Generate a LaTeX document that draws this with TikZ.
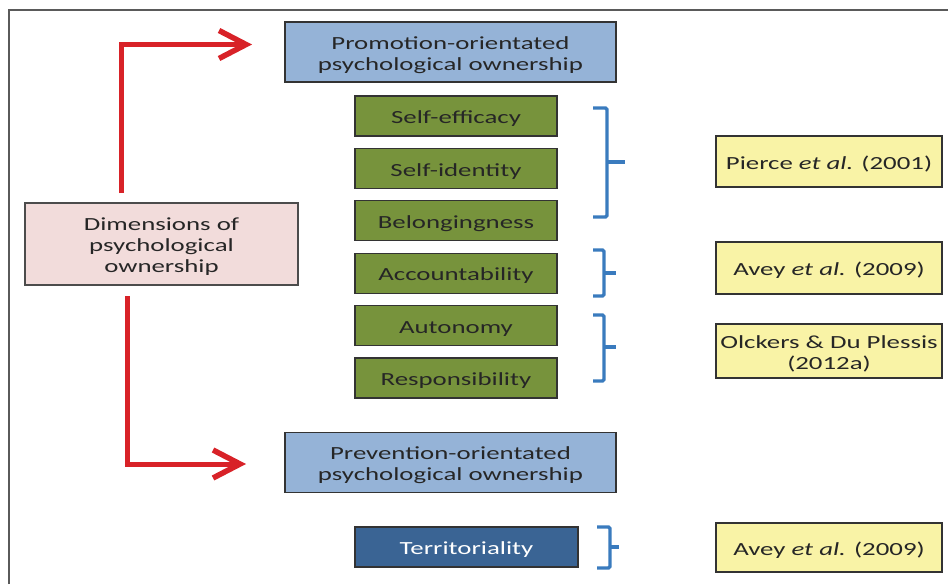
\documentclass[tikz,border=0pt]{standalone}
\usepackage{fontspec}
\setmainfont{Carlito}[FakeStretch=1.45]
\usetikzlibrary{arrows.meta}

\definecolor{boxblue}{HTML}{95B3D7}
\definecolor{boxgreen}{HTML}{77933C}
\definecolor{boxpink}{HTML}{F2DCDB}
\definecolor{boxyellow}{HTML}{F9F3A6}
\definecolor{boxnavy}{HTML}{3A6494}
\definecolor{arrowred}{HTML}{D82228}
\definecolor{bracketblue}{HTML}{3A7BBE}
\definecolor{textgray}{HTML}{262626}
\definecolor{framegray}{HTML}{5A5A5A}

% centred lines, set slightly below the middle of their box
\newcommand{\boxlines}[1]{\raisebox{-3.5pt}[\height][\depth]{\begin{tabular}{@{}c@{}}#1\end{tabular}}}

\tikzset{
  basebox/.style={rectangle, inner sep=0pt, text=textgray,
    font=\fontsize{18.5}{21}\selectfont, line width=1.2pt, draw=black!80},
  orientbox/.style={basebox, fill=boxblue, minimum width=331pt, minimum height=60pt},
  dimbox/.style={basebox, fill=boxgreen, minimum width=202pt, minimum height=40pt},
  terrbox/.style={basebox, fill=boxnavy, text=white, minimum width=223pt, minimum height=40pt},
  mainbox/.style={basebox, fill=boxpink, draw=black!70, minimum width=273pt, minimum height=82pt},
  refbox/.style={basebox, fill=boxyellow, minimum width=226pt},
  redarrow/.style={draw=arrowred, line width=5pt,
    -{Straight Barb[length=27pt, width=28pt, line width=5.5pt]}},
  bracket/.style={draw=bracketblue, line width=3.3pt, rounded corners=1.5pt},
  frameline/.style={draw=framegray, line width=2pt}
}

\begin{document}
\begin{tikzpicture}[x=1pt, y=-1pt]
  \useasboundingbox (0,0) rectangle (948,584);
  \fill[white] (0,0) rectangle (948,584);

  % page frame, top and left edges
  \draw[frameline] (8.5,584) -- (8.5,9.5) -- (948,9.5);

  % orientation boxes
  \node[orientbox] (promo) at (450.5,52) {\boxlines{Promotion-orientated\\psychological ownership}};
  \node[orientbox] (prev) at (450.5,462.5) {\boxlines{Prevention-orientated\\psychological ownership}};

  % central box
  \node[mainbox] (dims) at (161.5,244) {\boxlines{Dimensions of\\psychological\\ownership}};

  % dimensions
  \node[dimbox] (eff) at (456,116) {\boxlines{Self-efficacy}};
  \node[dimbox] (ident) at (456,168.4) {\boxlines{Self-identity}};
  \node[dimbox] (belong) at (456,220.8) {\boxlines{Belongingness}};
  \node[dimbox] (account) at (456,273.2) {\boxlines{Accountability}};
  \node[dimbox] (auto) at (456,325.6) {\boxlines{Autonomy}};
  \node[dimbox] (resp) at (456,378) {\boxlines{Responsibility}};
  \node[terrbox] (terr) at (466.5,547) {\boxlines{Territoriality}};

  % references
  \node[refbox, minimum height=51pt] (pierce) at (829,161.5) {\boxlines{Pierce \textit{et al.} (2001)}};
  \node[refbox, minimum height=52pt] (avey1) at (829,268) {\boxlines{Avey \textit{et al.} (2009)}};
  \node[refbox, minimum height=54pt] (olck) at (829,351) {\boxlines{Olckers \& Du Plessis\\(2012a)}};
  \node[refbox, minimum height=49pt] (avey2) at (829,547.5) {\boxlines{Avey \textit{et al.} (2009)}};

  % red arrows from the central box
  \coordinate (upstart) at (121,193);
  \coordinate (uptip) at (252,44.5);
  \coordinate (downstart) at (127,296);
  \coordinate (downtip) at (246,464);
  \draw[redarrow] (upstart) |- (uptip);
  \draw[redarrow] (downstart) |- (downtip);

  % brackets grouping the dimensions
  \draw[bracket] (593,108) -- (607,108) -- (607,217) -- (593,217);
  \draw[bracket] (607,162) -- (625,162);
  \draw[bracket] (593,250) -- (604,250) -- (604,296) -- (593,296);
  \draw[bracket] (604,273) -- (616,273);
  \draw[bracket] (593,315) -- (604,315) -- (604,381) -- (593,381);
  \draw[bracket] (604,347) -- (616,347);
  \draw[bracket] (597,527) -- (610,527) -- (610,568) -- (597,568);
  \draw[bracket] (610,547) -- (619,547);
\end{tikzpicture}
\end{document}
